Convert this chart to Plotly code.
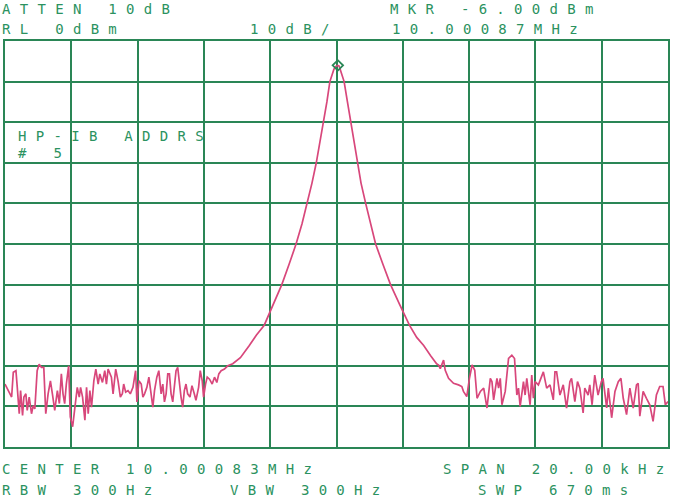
import plotly.graph_objects as go

# ---- instrument settings ----
CENTER_MHZ = 10.00083
SPAN_KHZ = 20.0
REF_LEVEL_DBM = 0.0
DB_PER_DIV = 10.0
MARKER_OFFSET_KHZ = 0.04      # 10.00087 MHz - 10.00083 MHz
MARKER_DBM = -6.00

# ---- trace values: frequency offset from centre (kHz) and level (dBm) ----
noise_left_khz = [-10.00, -9.90, -9.80, -9.75, -9.67, -9.63, -9.57, -9.53, -9.47, -9.43,
                  -9.37, -9.33, -9.27, -9.20, -9.15, -9.10, -9.03, -8.97, -8.90, -8.83,
                  -8.77, -8.70, -8.63, -8.57, -8.50, -8.42, -8.36, -8.30, -8.25, -8.20,
                  -8.15, -8.08, -8.03, -7.96, -7.89, -7.82, -7.76, -7.72, -7.66, -7.59,
                  -7.54, -7.49, -7.44, -7.39, -7.32, -7.26, -7.19, -7.14, -7.06, -6.99,
                  -6.94, -6.89,
                  -6.79, -6.74, -6.66, -6.59, -6.52, -6.46, -6.42, -6.36, -6.29, -6.22,
                  -6.14, -6.06, -6.02, -5.96, -5.89, -5.84, -5.79, -5.72, -5.66, -5.59,
                  -5.54, -5.49, -5.42, -5.36, -5.29, -5.24, -5.19, -5.14, -5.09, -5.04,
                  -4.99, -4.94, -4.89, -4.84, -4.79, -4.74, -4.69, -4.64, -4.59, -4.54,
                  -4.49, -4.42, -4.36, -4.29, -4.24, -4.16, -4.11, -4.05, -4.01, -3.95,
                  -3.90, -3.83, -3.75, -3.68, -3.61, -3.55, -3.48, -3.38, -3.28]
noise_left_dbm = [-84.5, -86.1, -87.7, -81.6, -81.2, -85.3, -91.8, -86.1, -92.2, -87.7,
                  -86.9, -91.0, -87.7, -91.8, -89.8, -90.6, -81.2, -79.6, -80.4, -80.4,
                  -91.8, -86.9, -83.7, -86.9, -91.0, -86.1, -89.3, -82.0, -86.9, -89.3,
                  -84.5, -80.0, -92.6, -95.0, -89.3, -85.3, -87.7, -85.3, -87.7, -93.4,
                  -85.3, -91.8, -86.1, -90.2, -83.7, -80.8, -84.5, -82.0, -84.1, -81.2,
                  -84.5, -80.8,
                  -82.8, -86.9, -80.8, -83.7, -87.7, -86.9, -84.5, -86.5, -86.1, -86.9,
                  -85.3, -81.2, -88.9, -83.7, -84.5, -87.7, -86.9, -85.3, -82.8, -87.7,
                  -90.2, -86.1, -82.8, -81.2, -86.9, -84.5, -88.9, -86.9, -82.0, -82.0,
                  -86.9, -88.9, -84.9, -81.2, -80.4, -84.5, -87.7, -90.2, -86.1, -84.5,
                  -86.9, -87.7, -84.9, -86.9, -88.5, -85.3, -81.2, -83.7, -87.7, -84.5,
                  -82.8, -83.3, -84.5, -82.8, -84.1, -82.0, -81.2, -80.8, -80.0]

peak_khz = [-3.13, -2.90, -2.63, -2.42, -2.18, -1.91, -1.65, -1.43, -1.22, -1.04,
            -0.88, -0.74, -0.61, -0.50, -0.40, -0.29, -0.20, -0.13, -0.08, -0.03,
            0.00, 0.04, 0.08, 0.11, 0.16, 0.23, 0.33, 0.43, 0.53, 0.62,
            0.74, 0.88, 1.02, 1.18, 1.40, 1.63, 1.91, 2.20, 2.42, 2.63,
            2.84, 3.02]
peak_dbm = [-79.5, -78.0, -75.0, -72.5, -70.0, -65.0, -60.0, -55.0, -50.0, -45.0,
            -40.0, -35.0, -30.0, -25.0, -20.0, -15.0, -10.0, -8.0, -7.0, -6.3,
            -6.1, -6.0, -6.2, -6.9, -8.2, -10.0, -15.0, -20.0, -25.0, -30.0,
            -35.0, -40.0, -45.0, -50.0, -55.0, -60.0, -65.0, -70.0, -73.0, -75.0,
            -77.5, -79.5]

noise_right_khz = [3.08, 3.13, 3.23, 3.28, 3.38, 3.53, 3.68, 3.78, 3.83, 3.93,
                   4.01, 4.09, 4.17, 4.24, 4.34, 4.44, 4.54, 4.64, 4.69, 4.74,
                   4.84, 4.89, 4.94, 4.99, 5.09, 5.19, 5.29, 5.37, 5.44, 5.49,
                   5.54, 5.64, 5.69, 5.74, 5.84, 5.89, 5.94, 5.99, 6.09, 6.19,
                   6.24, 6.34, 6.44, 6.54, 6.59, 6.64, 6.74, 6.84, 6.94, 7.04,
                   7.09, 7.19, 7.27, 7.34, 7.44, 7.49, 7.59, 7.64, 7.71, 7.79,
                   7.89, 7.99, 8.04, 8.15, 8.20, 8.30, 8.40, 8.50, 8.58, 8.65,
                   8.75, 8.85, 8.95, 9.05, 9.10, 9.15, 9.25, 9.35, 9.45, 9.55,
                   9.65, 9.75, 9.85, 9.92, 10.00]
noise_right_dbm = [-79.8, -80.7, -78.6, -81.1, -83.1, -84.3, -84.7, -85.1, -86.3, -87.6,
                   -83.1, -79.8, -81.1, -88.0, -86.3, -85.5, -90.4, -83.1, -83.9, -88.4,
                   -83.1, -85.5, -83.1, -89.6, -86.3, -78.2, -77.4, -78.2, -87.2, -85.5,
                   -90.0, -83.9, -87.2, -83.1, -89.6, -82.3, -88.0, -83.9, -84.7, -82.3,
                   -81.5, -85.5, -84.7, -88.4, -81.5, -81.5, -87.2, -84.7, -90.4, -83.9,
                   -83.1, -88.8, -83.9, -85.5, -91.6, -85.5, -87.2, -84.7, -89.6, -82.3,
                   -87.2, -83.9, -83.1, -90.4, -85.5, -92.8, -86.3, -83.9, -83.1, -88.0,
                   -92.0, -85.5, -90.4, -84.7, -84.3, -92.4, -86.3, -88.0, -89.6, -93.7,
                   -87.2, -85.1, -85.1, -89.6, -88.8]

assert len(noise_left_khz) == len(noise_left_dbm)
assert len(peak_khz) == len(peak_dbm)
assert len(noise_right_khz) == len(noise_right_dbm)

# ---- annotation texts ----
TXT_ATTEN = "ATTEN 10dB"
TXT_RL = "RL 0dBm"
TXT_SCALE = "10dB/"
TXT_MKR = "MKR -6.00dBm"
TXT_MKR_F = "10.00087MHz"
TXT_ADDR1 = "HP-IB ADDRS"
TXT_ADDR2 = "# 5"
TXT_CENTER = "CENTER 10.00083MHz"
TXT_SPAN = "SPAN 20.00kHz"
TXT_RBW = "RBW 300Hz"
TXT_VBW = "VBW 300Hz"
TXT_SWP = "SWP 670ms"

GRID = "#2a8656"
TEXT = "#2b9260"
TRACE = "#d8477b"

W, H = 675, 498
ML, MR, MT, MB = 5, 5, 41, 51
PW, PH = W - ML - MR, H - MT - MB

x_all = noise_left_khz + peak_khz + noise_right_khz
y_all = noise_left_dbm + peak_dbm + noise_right_dbm

fig = go.Figure()
fig.add_trace(go.Scatter(x=x_all, y=y_all, mode="lines",
                         line=dict(color=TRACE, width=1.7),
                         hoverinfo="skip", showlegend=False))
fig.add_trace(go.Scatter(x=[MARKER_OFFSET_KHZ], y=[MARKER_DBM], mode="markers",
                         marker=dict(symbol="diamond-open", size=8, color=GRID,
                                     line=dict(color=GRID, width=1.8)),
                         hoverinfo="skip", showlegend=False))

half = SPAN_KHZ / 2
bottom = REF_LEVEL_DBM - 10 * DB_PER_DIV
fig.update_xaxes(range=[-half, half], tick0=-half, dtick=SPAN_KHZ / 10,
                 showgrid=True, gridcolor=GRID, gridwidth=2,
                 showline=True, linecolor=GRID, linewidth=2, mirror=True,
                 zeroline=False, showticklabels=False, ticks="")
fig.update_yaxes(range=[bottom, REF_LEVEL_DBM], tick0=bottom, dtick=DB_PER_DIV,
                 showgrid=True, gridcolor=GRID, gridwidth=2,
                 showline=True, linecolor=GRID, linewidth=2, mirror=True,
                 zeroline=False, showticklabels=False, ticks="")

FONT = dict(family="DejaVu Sans Mono", size=14, color=TEXT)
SPACING = 9.3


def label(text, px, py):
    fig.add_annotation(
        text='<span style="letter-spacing:%.1fpx">%s</span>' % (SPACING, text),
        xref="paper", yref="paper",
        x=(px - ML) / PW, y=1 - (py - MT) / PH,
        xanchor="left", yanchor="middle", showarrow=False,
        font=FONT, borderpad=0)


label(TXT_ATTEN, 1, 8.5)
label(TXT_MKR, 390, 8.5)
label(TXT_RL, 1, 28.5)
label(TXT_SCALE, 250, 28.5)
label(TXT_MKR_F, 392, 28.5)
label(TXT_ADDR1, 17, 135.5)
label(TXT_ADDR2, 17, 152.5)
label(TXT_CENTER, 1, 469)
label(TXT_SPAN, 443, 469)
label(TXT_RBW, 1, 489.5)
label(TXT_VBW, 230, 489.5)
label(TXT_SWP, 478, 489.5)

fig.update_layout(width=W, height=H,
                  margin=dict(l=ML, r=MR, t=MT, b=MB, pad=0),
                  paper_bgcolor="white", plot_bgcolor="white",
                  showlegend=False)

# the page body keeps its default 8px margin otherwise; the figure fills the window
fig.write_html("out.html",
               config={"displayModeBar": False, "staticPlot": True},
               post_script="document.body.style.margin='0';document.body.style.overflow='hidden';")
